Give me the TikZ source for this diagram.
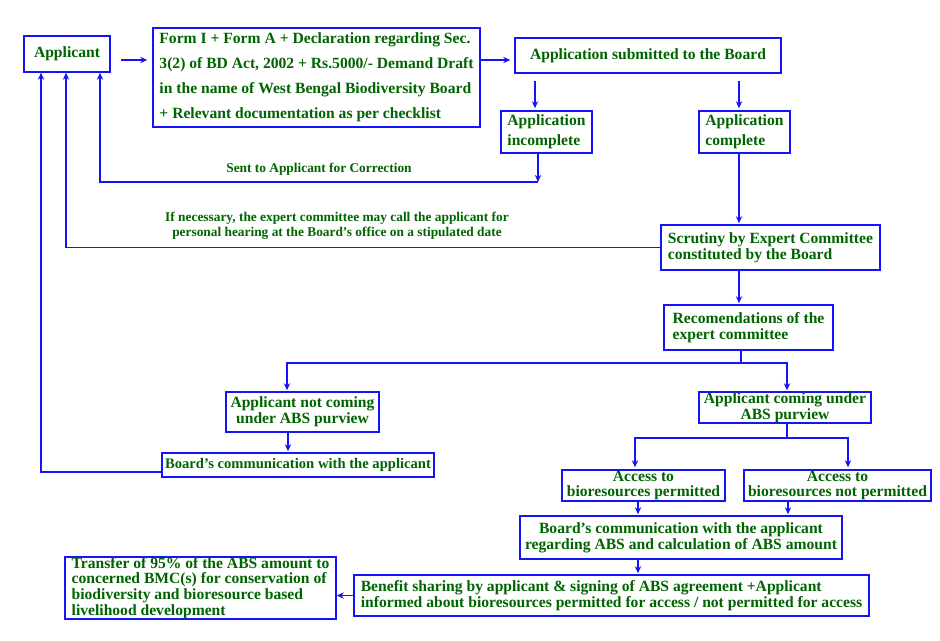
\documentclass[tikz,border=0pt]{standalone}
\usepackage{fontspec}
\setmainfont{Liberation Serif}
\usetikzlibrary{arrows.meta,calc}
\definecolor{boxblue}{RGB}{20,20,250}
\definecolor{txtgreen}{RGB}{0,100,0}
\tikzset{
    box/.style = {draw = boxblue, line width = 1.1pt, text = txtgreen, inner sep = 0pt, align = center,
        font = \bfseries\fontsize{11.1}{11.2}\selectfont},
    sz/.style 2 args = {minimum width = #1*0.025cm, minimum height = #2*0.025cm},
    lnk/.style = {draw = boxblue, line width = 1.1pt},
    arr/.style = {lnk, -{Stealth[length = 5pt, width = 4.5pt]}},
    note/.style = {text = txtgreen, align = center, font = \bfseries\fontsize{9.5}{10.7}\selectfont}
}
\begin{document}
\begin{tikzpicture}[x = 0.025cm, y = -0.025cm]
        \path [use as bounding box, fill = white] (0, 0) rectangle (940, 640);
        \node [box, sz = {86}{36}] (app) at (67, 54) {Applicant};
        \node [box, sz = {327}{99}, align = left, font = \bfseries\fontsize{11.1}{17.8}\selectfont] (form) at (316.5, 77.5)
            {Form I + Form A + Declaration regarding Sec.\\3(2) of BD Act, 2002 + Rs.5000/- Demand Draft\\in the name of West Bengal Biodiversity Board\\+ Relevant documentation as per checklist};
        \node [box, sz = {266}{35}] (sub) at (648, 55.5) {Application submitted to the Board};
        \node [box, sz = {91}{42}, align = left, font = \bfseries\fontsize{11.1}{14.2}\selectfont] (inc) at (546.5, 132) {Application\\incomplete};
        \node [box, sz = {91}{42}, align = left, font = \bfseries\fontsize{11.1}{14.2}\selectfont] (comp) at (744.5, 132) {Application\\complete};
        \node [box, sz = {219}{45}, align = left] (scr) at (770.5, 247.5) {Scrutiny by Expert Committee\\constituted by the Board};
        \node [box, sz = {169}{45}, align = left] (rec) at (748.5, 327.5) {Recomendations of the\\expert committee};
        \node [box, sz = {153}{40}] (notc) at (302.5, 412) {Applicant not coming\\under ABS purview};
        \node [box, sz = {272}{24}, font = \bfseries\fontsize{10.4}{11.2}\selectfont] (bcom) at (298, 465) {Board’s communication with the applicant};
        \node [box, sz = {172}{31}] (abs) at (785, 407.5) {Applicant coming under\\ABS purview};
        \node [box, sz = {163}{31}] (perm) at (643.5, 485.5) {Access to\\bioresources permitted};
        \node [box, sz = {187}{31}] (nperm) at (837.5, 485.5) {Access to\\bioresources not permitted};
        \node [box, sz = {322}{43}] (babs) at (681, 537.5) {Board’s communication with the applicant\\regarding ABS and calculation of ABS amount};
        \node [box, sz = {515}{41}, align = left] (ben) at (611.5, 595.5)
            {Benefit sharing by applicant \& signing of ABS agreement +Applicant\\informed about bioresources permitted for access / not permitted for access};
        \node [box, sz = {271}{62}, align = left] (trans) at (200.5, 588)
            {Transfer of 95\% of the ABS amount to\\concerned BMC(s) for conservation of\\biodiversity and bioresource based\\livelihood development};
        \coordinate (back) at (538, 182);
        \coordinate (split1) at (741, 363);
        \coordinate (split2) at (787, 438);
        \draw [arr] ($(app.east) + (10, 6)$) -- ($(form.west) + (-5, -17.5)$);
        \draw [arr] ($(form.east) + (0, -17.5)$) -- ($(sub.west) + (-4, 4.5)$);
        \draw [arr] ($(sub.south) + (-113, 7)$) -- ($(inc.north) + (-11.5, -2)$);
        \draw [arr] ($(sub.south) + (91, 7)$) -- ($(comp.north) + (-5.5, -2)$);
        \draw [arr] (inc.south -| back) -- (back);
        \draw [arr] (back) -| ($(app.south) + (33, 0)$) node [note, pos = 0.25, above = 1pt] (sentlbl) {Sent to Applicant for Correction};
        \draw [arr] ($(comp.south) + (-5.5, 0)$) -- ($(scr.north) + (-31.5, -1)$);
        \draw [arr] (scr.west) -| ($(app.south) + (-1, 0)$);
        \node [note] (hearlbl) at (337, 226) {If necessary, the expert committee may call the applicant for\\personal hearing at the Board’s office on a stipulated date};
        \draw [arr] ($(scr.south) + (-31.5, 0)$) -- ($(rec.north) + (-9.5, -1)$);
        \draw [lnk] ($(rec.south) + (-7.5, 0)$) -- (split1);
        \draw [arr] (split1) -| ($(notc.north) + (-15.5, -1)$);
        \draw [arr] (split1) -| ($(abs.north) + (2, -1)$);
        \draw [arr] ($(notc.south) + (-14.5, 0)$) -- ($(bcom.north) + (-10, -1)$);
        \draw [arr] ($(bcom.west) + (0, 7)$) -| ($(app.south) + (-26, 0)$);
        \draw [lnk] ($(abs.south) + (2, 0)$) -- (split2);
        \draw [arr] (split2) -| ($(perm.north) + (-8.5, -2)$);
        \draw [arr] (split2) -| ($(nperm.north) + (10.5, -2)$);
        \draw [arr] ($(perm.south) + (-5.5, 0)$) -- ($(babs.north) + (-43, -1)$);
        \draw [arr] ($(nperm.south) + (-49.5, 0)$) -- ($(babs.north) + (107, -1)$);
        \draw [arr] ($(babs.south) + (-43, 0)$) -- ($(ben.north) + (26.5, -1)$);
        \draw [arr] (ben.west) -- (ben.west -| trans.east);
    \end{tikzpicture}
\end{document}
